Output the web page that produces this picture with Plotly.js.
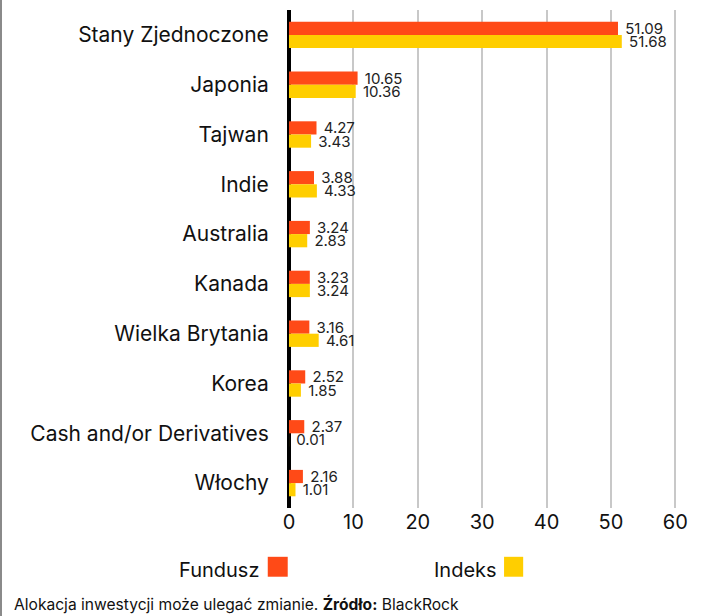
<!DOCTYPE html>
<html><head><meta charset="utf-8">
<script src="https://cdn.plot.ly/plotly-3.0.1.min.js"></script>
<style>html,body{margin:0;padding:0;background:#fff;}#c{width:720px;height:616px;border-left:2px solid #8a8a8a;}</style>
</head><body><div id="c"></div>
<script>
const categories = ["Stany Zjednoczone","Japonia","Tajwan","Indie","Australia","Kanada","Wielka Brytania","Korea","Cash and/or Derivatives","Włochy"];
const fundusz = [51.09,10.65,4.27,3.88,3.24,3.23,3.16,2.52,2.37,2.16];
const indeks = [51.68,10.36,3.43,4.33,2.83,3.24,4.61,1.85,0.01,1.01];
const seriesNames = ["Fundusz","Indeks"];
const colors = ["#FF4A17","#FFCE00"];
const xTicks = [0,10,20,30,40,50,60];
const footer = "Alokacja inwestycji może ulegać zmianie. <b>Źródło:</b> BlackRock";

const fmt = v => " " + v.toFixed(2);
const font = "Inter, Noto Sans, sans-serif";
const mk = (vals, i) => ({
  type:"bar", orientation:"h", x:vals, y:categories, name:seriesNames[i],
  marker:{color:colors[i]}, text:vals.map(fmt), textposition:"outside", constraintext:"none",
  textfont:{size:15,color:"#222",family:font},
  cliponaxis:false, hoverinfo:"none"
});
const data = [mk(fundusz,0), mk(indeks,1)];
const layout = {
  width:720, height:616, margin:{l:287,r:8,t:10,b:108},
  paper_bgcolor:"#fff", plot_bgcolor:"#fff",
  barmode:"group", bargap:0.47, bargroupgap:0, showlegend:false,
  font:{family:font, color:"#111"},
  xaxis:{range:[0,66], tickvals:xTicks, ticktext:xTicks.map(String), showgrid:true, gridcolor:"#c8c8c8", gridwidth:2,
    zeroline:true, zerolinecolor:"#000", zerolinewidth:4, showline:false, ticks:"", tickfont:{size:20,family:font,color:"#111"}},
  yaxis:{autorange:"reversed", type:"category", showgrid:false, zeroline:false, showline:false,
    ticks:"outside", ticklen:15, tickcolor:"rgba(0,0,0,0)", tickfont:{size:21,family:font,color:"#111"}},
  annotations:[
    {xref:"paper",yref:"paper",x:-0.066,y:-0.125,xanchor:"right",yanchor:"middle",showarrow:false,text:seriesNames[0],font:{size:20,family:font,color:"#111"}},
    {xref:"paper",yref:"paper",x:0.494,y:-0.125,xanchor:"right",yanchor:"middle",showarrow:false,text:seriesNames[1],font:{size:20,family:font,color:"#111"}},
    {xref:"paper",yref:"paper",x:-0.652,y:-0.192,xanchor:"left",yanchor:"middle",showarrow:false,text:footer,font:{size:15.6,family:font,color:"#111"}}
  ],
  shapes:[
    {type:"rect",xref:"paper",yref:"paper",x0:-0.05,x1:-0.003,y0:-0.098,y1:-0.138,fillcolor:colors[0],line:{width:0}},
    {type:"rect",xref:"paper",yref:"paper",x0:0.506,x1:0.551,y0:-0.098,y1:-0.138,fillcolor:colors[1],line:{width:0}}
  ]
};
Plotly.newPlot("c", data, layout, {displayModeBar:false, staticPlot:true});
</script></body></html>
